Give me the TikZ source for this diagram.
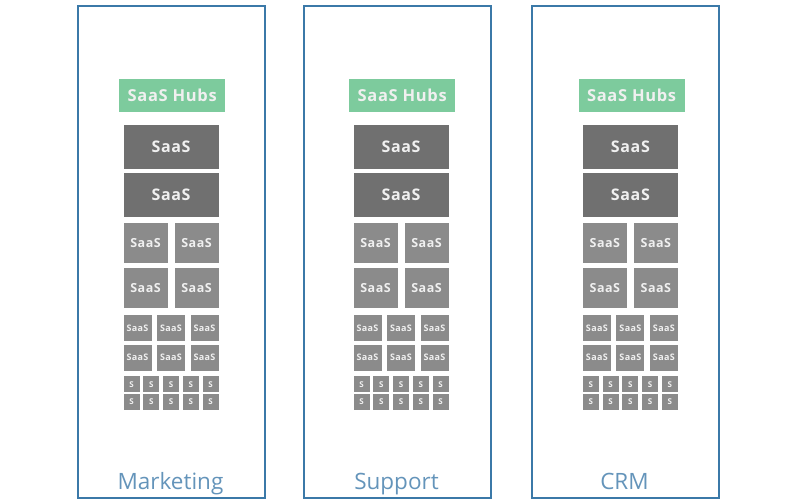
\documentclass[tikz,border=0pt]{standalone}
\usepackage{fontspec}
\setmainfont{Open Sans}
\newfontfamily\boxfont[LetterSpace=4]{Open Sans}
\usepackage{tikz}
\usetikzlibrary{positioning}

\definecolor{hubgreen}{HTML}{7DCB9D}
\definecolor{darkgray}{HTML}{707070}
\definecolor{midgray}{HTML}{8B8B8B}
\definecolor{panelblue}{HTML}{3B79A8}
\definecolor{labelblue}{HTML}{6494BA}

\tikzset{
  saasbox/.style={fill=midgray, text=white!94!black, inner sep=0pt, anchor=north west,
    font=\boxfont\bfseries},
  hubbox/.style={saasbox, fill=hubgreen, minimum width=106pt, minimum height=33pt,
    font=\boxfont\bfseries\fontsize{16.5}{16.5}\selectfont},
  bigbox/.style={saasbox, fill=darkgray, minimum width=95pt, minimum height=44pt,
    font=\boxfont\bfseries\fontsize{16}{16}\selectfont},
  midbox/.style={saasbox, minimum width=44pt, minimum height=40pt,
    font=\boxfont\bfseries\fontsize{12.5}{12.5}\selectfont},
  smallbox/.style={saasbox, minimum width=28pt, minimum height=26pt,
    font=\boxfont\bfseries\fontsize{9}{9}\selectfont},
  tinybox/.style={saasbox, minimum width=16pt, minimum height=16pt,
    font=\boxfont\bfseries\fontsize{8}{8}\selectfont},
  panel/.style={draw=panelblue, line width=2pt, anchor=north west, inner sep=0pt,
    minimum width=187pt, minimum height=492pt},
  panellabel/.style={text=labelblue, anchor=base, font=\fontsize{22.5}{22.5}\selectfont}
}

\begin{document}
\begin{tikzpicture}[x=1pt, y=-1pt]
  \useasboundingbox (0,0) rectangle (800,500);
  \foreach \name/\px/\sx [count=\i] in {Marketing/77/123.3, Support/303/353.3, CRM/531/582.7} {
    % panel and its title
    \node[panel] (panel-\i) at (\px,5) {};
    \node[panellabel] (label-\i) at (\px+93.5,489) {\name};
    % hub and big boxes
    \node[hubbox] (hub-\i) at (\sx-4.3,79) {SaaS Hubs};
    \node[bigbox] (big-\i-1) at (\sx,125) {SaaS};
    \node[bigbox] (big-\i-2) at (\sx,173) {SaaS};
    % medium boxes
    \foreach \r/\y in {1/222.5, 2/267.5}
      \foreach \c/\dx in {1/0, 2/51}
        \node[midbox] (mid-\i-\r-\c) at (\sx+\dx,\y) {SaaS};
    % small boxes
    \foreach \r/\y in {1/315, 2/344.5}
      \foreach \c/\dx in {1/0, 2/33.5, 3/67}
        \node[smallbox] (small-\i-\r-\c) at (\sx+\dx,\y) {SaaS};
    % tiny boxes
    \foreach \r/\y in {1/376, 2/393.5}
      \foreach \c in {1,...,5}
        \node[tinybox] (tiny-\i-\r-\c) at (\sx+19.75*\c-19.75,\y) {S};
  }
\end{tikzpicture}
\end{document}
